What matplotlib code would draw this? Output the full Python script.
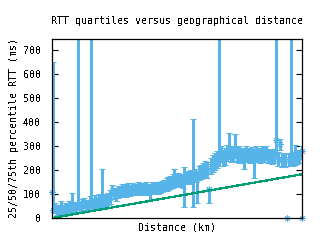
import matplotlib
matplotlib.use('Agg')
import matplotlib.pyplot as plt

# distance (km) and 25/50/75th percentile RTT (ms)
distance = [0, 70, 220, 370, 520, 660, 810, 950, 1100, 1250, 1400, 1460, 1610, 1760, 1900,
            2050, 2200, 2340, 2490, 2640, 2780, 2855, 3000, 3150, 3300, 3450, 3600, 3660,
            3800, 3950, 4100, 4250, 4400, 4540, 4690, 4830, 4980, 5130, 5270, 5420, 5560,
            5710, 5860, 6000, 6150, 6300, 6440, 6590, 6730, 6880, 7030, 7170, 7320, 7470,
            7610, 7760, 7910, 8050, 8200, 8350, 8490, 8640, 8790, 8930, 9080, 9220, 9370,
            9520, 9660, 9810, 9960, 10100, 10250, 10400, 10540, 10690, 10830, 10980, 11130,
            11270, 11420, 11560, 11710, 11860, 12000, 12150, 12300, 12440, 12590, 12740,
            12880, 13030, 13180, 13320, 13470, 13620, 13760, 13910, 13980, 14130, 14280,
            14420, 14570, 14710, 14860, 15010, 15160, 15300, 15450, 15600, 15740, 15890,
            16040, 16180, 16320, 16470, 16620, 16760, 16840, 16980, 17130, 17280, 17420,
            17570, 17710, 17860, 18010, 18230, 18230]
rtt_q25 = [95, 20, 22, 12, 15, 25, 12, 20, 18, 25, 22, 30, 25, 22, 35,
           25, 35, 40, 32, 30, 42, 45, 38, 45, 42, 48, 44, 50,
           45, 48, 55, 58, 92, 78, 72, 84, 88, 94, 92, 88, 96,
           92, 98, 94, 96, 100, 94, 98, 96, 100, 94, 75, 100, 98,
           104, 100, 106, 108, 112, 114, 118, 122, 125, 130, 132, 134, 128,
           124, 46, 140, 142, 144, 46, 150, 62, 158, 162, 168, 172,
           165, 62, 182, 192, 202, 208, 218, 232, 218, 222, 238,
           244, 232, 238, 250, 232, 230, 228, 232, 204, 238, 232,
           228, 234, 167, 238, 232, 230, 238, 234, 240, 230, 228,
           225, 228, 260, 218, 285, 212, 212, 212, 0, 215, 222,
           218, 222, 225, 228, 260, 0]
rtt_q50 = [108, 35, 40, 28, 32, 45, 30, 38, 35, 48, 42, 50, 44, 40, 55,
           45, 58, 60, 52, 50, 62, 65, 60, 68, 62, 72, 66, 75,
           68, 70, 80, 85, 115, 100, 95, 108, 110, 118, 115, 112, 120,
           115, 120, 116, 118, 122, 118, 120, 118, 122, 118, 112, 124, 122,
           126, 122, 128, 130, 135, 138, 142, 148, 150, 155, 158, 160, 155,
           150, 150, 165, 168, 170, 170, 175, 160, 185, 190, 195, 200,
           195, 121, 215, 225, 235, 240, 250, 265, 250, 255, 270,
           280, 265, 270, 285, 262, 265, 258, 262, 240, 268, 262,
           258, 264, 255, 268, 262, 260, 268, 265, 270, 258, 255,
           252, 255, 325, 245, 308, 240, 240, 238, 0, 245, 250,
           245, 248, 252, 255, 280, 0]
rtt_q75 = [118, 650, 62, 48, 55, 72, 52, 62, 58, 70, 66, 104, 65, 62, 900,
           70, 80, 85, 75, 72, 90, 900, 84, 94, 88, 100, 92, 204,
           96, 98, 106, 115, 138, 125, 122, 132, 135, 142, 140, 138, 145,
           138, 146, 140, 142, 148, 142, 146, 142, 148, 142, 138, 148, 146,
           150, 148, 152, 155, 160, 165, 170, 175, 182, 204, 186, 188, 184,
           180, 212, 192, 196, 200, 412, 206, 196, 215, 222, 230, 238,
           232, 125, 252, 262, 272, 278, 900, 298, 282, 292, 306,
           354, 298, 302, 350, 295, 298, 290, 292, 276, 298, 292,
           290, 295, 288, 298, 292, 290, 298, 295, 300, 288, 285,
           282, 288, 900, 276, 330, 270, 270, 265, 0, 272, 900,
           275, 304, 280, 282, 300, 0]

# propagation model line (ms)
model_distance = [0, 18230]
model_rtt = [0, 182.3]

blue = '#56b4e9'
green = '#009e73'

plt.rcParams['font.family'] = ['DejaVu Sans Mono']
plt.rcParams['font.size'] = 7.2
plt.rcParams['text.antialiased'] = False

fig = plt.figure(figsize=(3.2, 2.4), dpi=100)
ax = fig.add_axes([52 / 320, 22 / 240, 250 / 320, 179 / 240])

lower = [m - q for m, q in zip(rtt_q50, rtt_q25)]
upper = [q - m for m, q in zip(rtt_q50, rtt_q75)]
ax.errorbar(distance, rtt_q50, yerr=[lower, upper], fmt='none', ecolor=blue,
            elinewidth=0.75, capsize=2, capthick=0.75, antialiased=False)
ax.plot(distance, rtt_q50, linestyle='none', marker=(8, 2, 0), markersize=4.5,
        markeredgewidth=0.6, color=blue, clip_on=False, antialiased=False)
ax.plot(model_distance, model_rtt, color=green, linewidth=0.9, antialiased=False)

ax.set_xlim(0, 18230)
ax.set_ylim(0, 746)
ax.set_yticks(range(0, 701, 100))
ax.set_xticks([])
ax.tick_params(axis='y', direction='in', length=4, width=0.8, right=True, pad=8)
for s in ax.spines.values():
    s.set_linewidth(0.9)

ax.set_title('RTT quartiles versus geographical distance', fontsize=7.2, pad=11)
ax.set_xlabel('Distance (km)', labelpad=3)
ax.set_ylabel('25/50/75th percentile RTT (ms)', labelpad=3)

fig.savefig('out.png', dpi=100)
